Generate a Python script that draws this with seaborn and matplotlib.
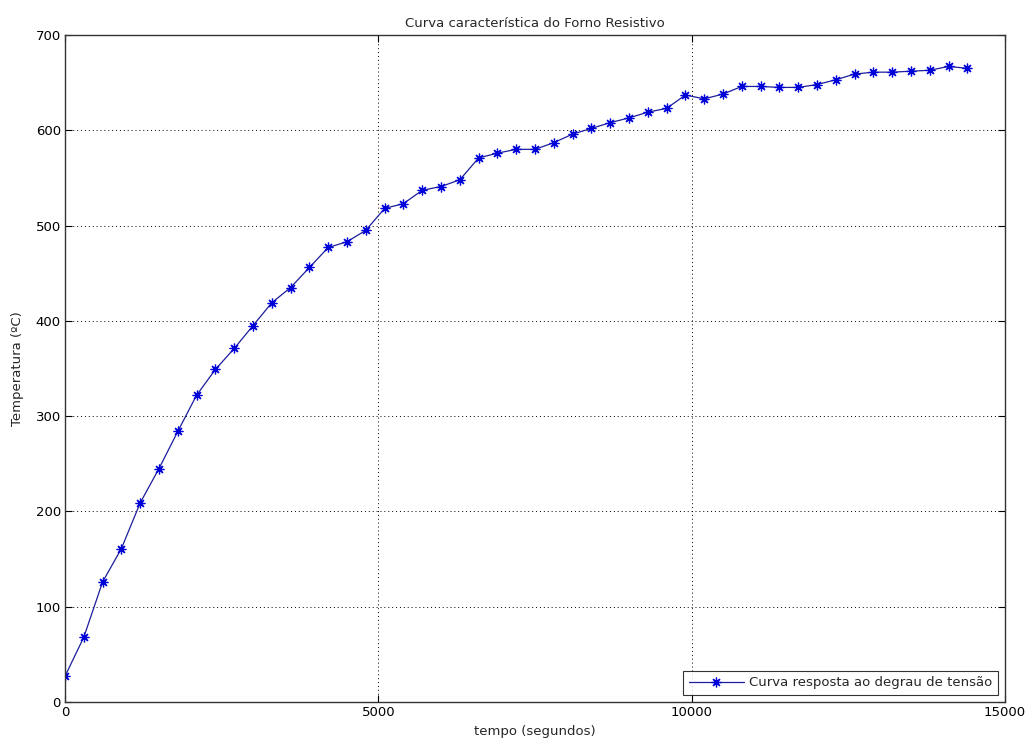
import matplotlib
matplotlib.use("Agg")
import matplotlib.pyplot as plt
import seaborn as sns
import pandas as pd

tempo = [0, 300, 600, 900, 1200, 1500, 1800, 2100, 2400, 2700, 3000, 3300, 3600, 3900,
         4200, 4500, 4800, 5100, 5400, 5700, 6000, 6300, 6600, 6900, 7200, 7500, 7800,
         8100, 8400, 8700, 9000, 9300, 9600, 9900, 10200, 10500, 10800, 11100, 11400,
         11700, 12000, 12300, 12600, 12900, 13200, 13500, 13800, 14100, 14400]
temperatura = [27, 68, 126, 161, 209, 245, 284, 322, 349, 371, 395, 419, 435, 456,
               477, 483, 495, 518, 523, 537, 541, 548, 571, 576, 580, 580, 587,
               596, 602, 608, 613, 619, 623, 637, 633, 638, 646, 646, 645,
               645, 648, 653, 659, 661, 661, 662, 663, 667, 665]

titulo = "Curva característica do Forno Resistivo"
xlabel = "tempo (segundos)"
ylabel = "Temperatura (ºC)"
legenda = "Curva resposta ao degrau de tensão"
xticks = [0, 5000, 10000, 15000]
yticks = [0, 100, 200, 300, 400, 500, 600, 700]

df = pd.DataFrame({"tempo": tempo, "temperatura": temperatura})

sns.set_style("ticks")
plt.rcParams['font.family'] = ['DejaVu Sans']
plt.rcParams['font.size'] = 9.5

fig = plt.figure(figsize=(10.25, 7.46), dpi=100)
ax = fig.add_axes([65/1025, 44/746, 940/1025, 667/746])

sns.lineplot(data=df, x="tempo", y="temperatura", ax=ax, color="#1c1c9c",
             marker=(8, 2, 0), markersize=7, markeredgecolor="#0000d8",
             markeredgewidth=0.9, linewidth=0.9, label=legenda)

ax.set_xlim(0, 15000)
ax.set_ylim(0, 700)
ax.set_xticks(xticks)
ax.set_yticks(yticks)
ax.set_xticklabels([str(v) for v in xticks])
ax.set_yticklabels([str(v) for v in yticks])
ax.grid(True, linestyle=(0, (1, 3)), color="black", linewidth=0.7)
ax.tick_params(direction="in", top=True, right=True, length=5, labelsize=9.5,
               colors="black", pad=3)
for s in ax.spines.values():
    s.set_visible(True)
    s.set_color("#333333")
    s.set_linewidth(1.0)

ax.set_title(titulo, fontsize=9.5, pad=6)
ax.set_xlabel(xlabel, fontsize=9.5, labelpad=4)
ax.set_ylabel(ylabel, fontsize=9.5, labelpad=8)

leg = ax.legend(loc="lower right", fontsize=9.5, frameon=True, fancybox=False,
                borderaxespad=0.5, handlelength=4.2, handletextpad=0.4,
                borderpad=0.45)
leg.get_frame().set_edgecolor("black")
leg.get_frame().set_linewidth(0.8)

fig.savefig("out.png", dpi=100, facecolor="white")
